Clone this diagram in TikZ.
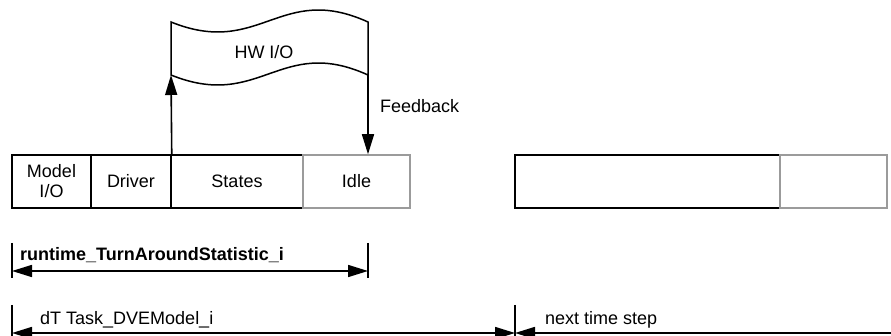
\documentclass[tikz,border=0pt]{standalone}
\usepackage{fontspec}
\setmainfont{Liberation Sans}
\usetikzlibrary{arrows.meta}
\definecolor{idlegray}{RGB}{155,155,155}
\begin{document}
\begin{tikzpicture}[x=1pt,y=-1pt,
  slot/.style={draw,line width=1.5pt,minimum height=53pt,inner sep=0pt,align=center,
    font=\fontsize{18}{20}\selectfont},
  lbl/.style={inner sep=0pt,font=\fontsize{18}{20}\selectfont},
  tip/.style={line width=1.6pt,-{Triangle[length=20pt,width=12pt]}},
  span/.style={line width=1.6pt,{Triangle[length=20pt,width=12pt]}-{Triangle[length=20pt,width=12pt]}}]
  \useasboundingbox (0,0) rectangle (891,336);
  % one task period
  \foreach \n/\x/\w/\t in {model/51.5/79/{Model\\I/O},driver/131/80/Driver,states/237/132/States}
    {\node[slot,minimum width=\w pt] (\n) at (\x,181.5) {\t};}
  \node[slot,draw=idlegray,minimum width=107pt] (idle) at (356.5,181.5) {Idle};
  % next period
  \node[slot,minimum width=265pt] (nextrun) at (647.5,181.5) {};
  \node[slot,draw=idlegray,minimum width=107pt] (nextidle) at (833.5,181.5) {};
  % hardware flag
  \coordinate (hwbl) at (171,75); \coordinate (hwbr) at (368,75);
  \draw[line width=1.5pt] (hwbl) -- (171,22) .. controls (260,58) and (280,-18) .. (368,22)
    -- (hwbr) .. controls (280,35) and (260,111) .. (hwbl) -- cycle;
  \node[lbl] (hw) at (264,52) {HW I/O};
  \draw[tip] (driver.north east) -- (hwbl);
  \draw[tip] (hwbr) -- (idle.north -| hwbr);
  \node[lbl,anchor=west] (fb) at (380,106) {Feedback};
  % turnaround time
  \coordinate (rt0) at (12,271); \coordinate (rt1) at (368,271);
  \draw[line width=1.5pt] (12,243) -- (12,278) (368,243) -- (368,278);
  \draw[span] (rt0) -- (rt1);
  \node[lbl,anchor=base west] (rt) at (20,261) {\bfseries runtime\_TurnAroundStatistic\_i};
  % task cycle
  \coordinate (dt0) at (12,333); \coordinate (dt1) at (515,333); \coordinate (dt2) at (900,333);
  \draw[line width=1.5pt] (12,305) -- (12,340) (515,305) -- (515,340);
  \draw[span] (dt0) -- (dt1);
  \draw[tip] (dt2) -- (dt1);
  \node[lbl,anchor=base west] (dt) at (40,325) {dT Task\_DVEModel\_i};
  \node[lbl,anchor=base west] (nts) at (545,325) {next time step};
\end{tikzpicture}
\end{document}
